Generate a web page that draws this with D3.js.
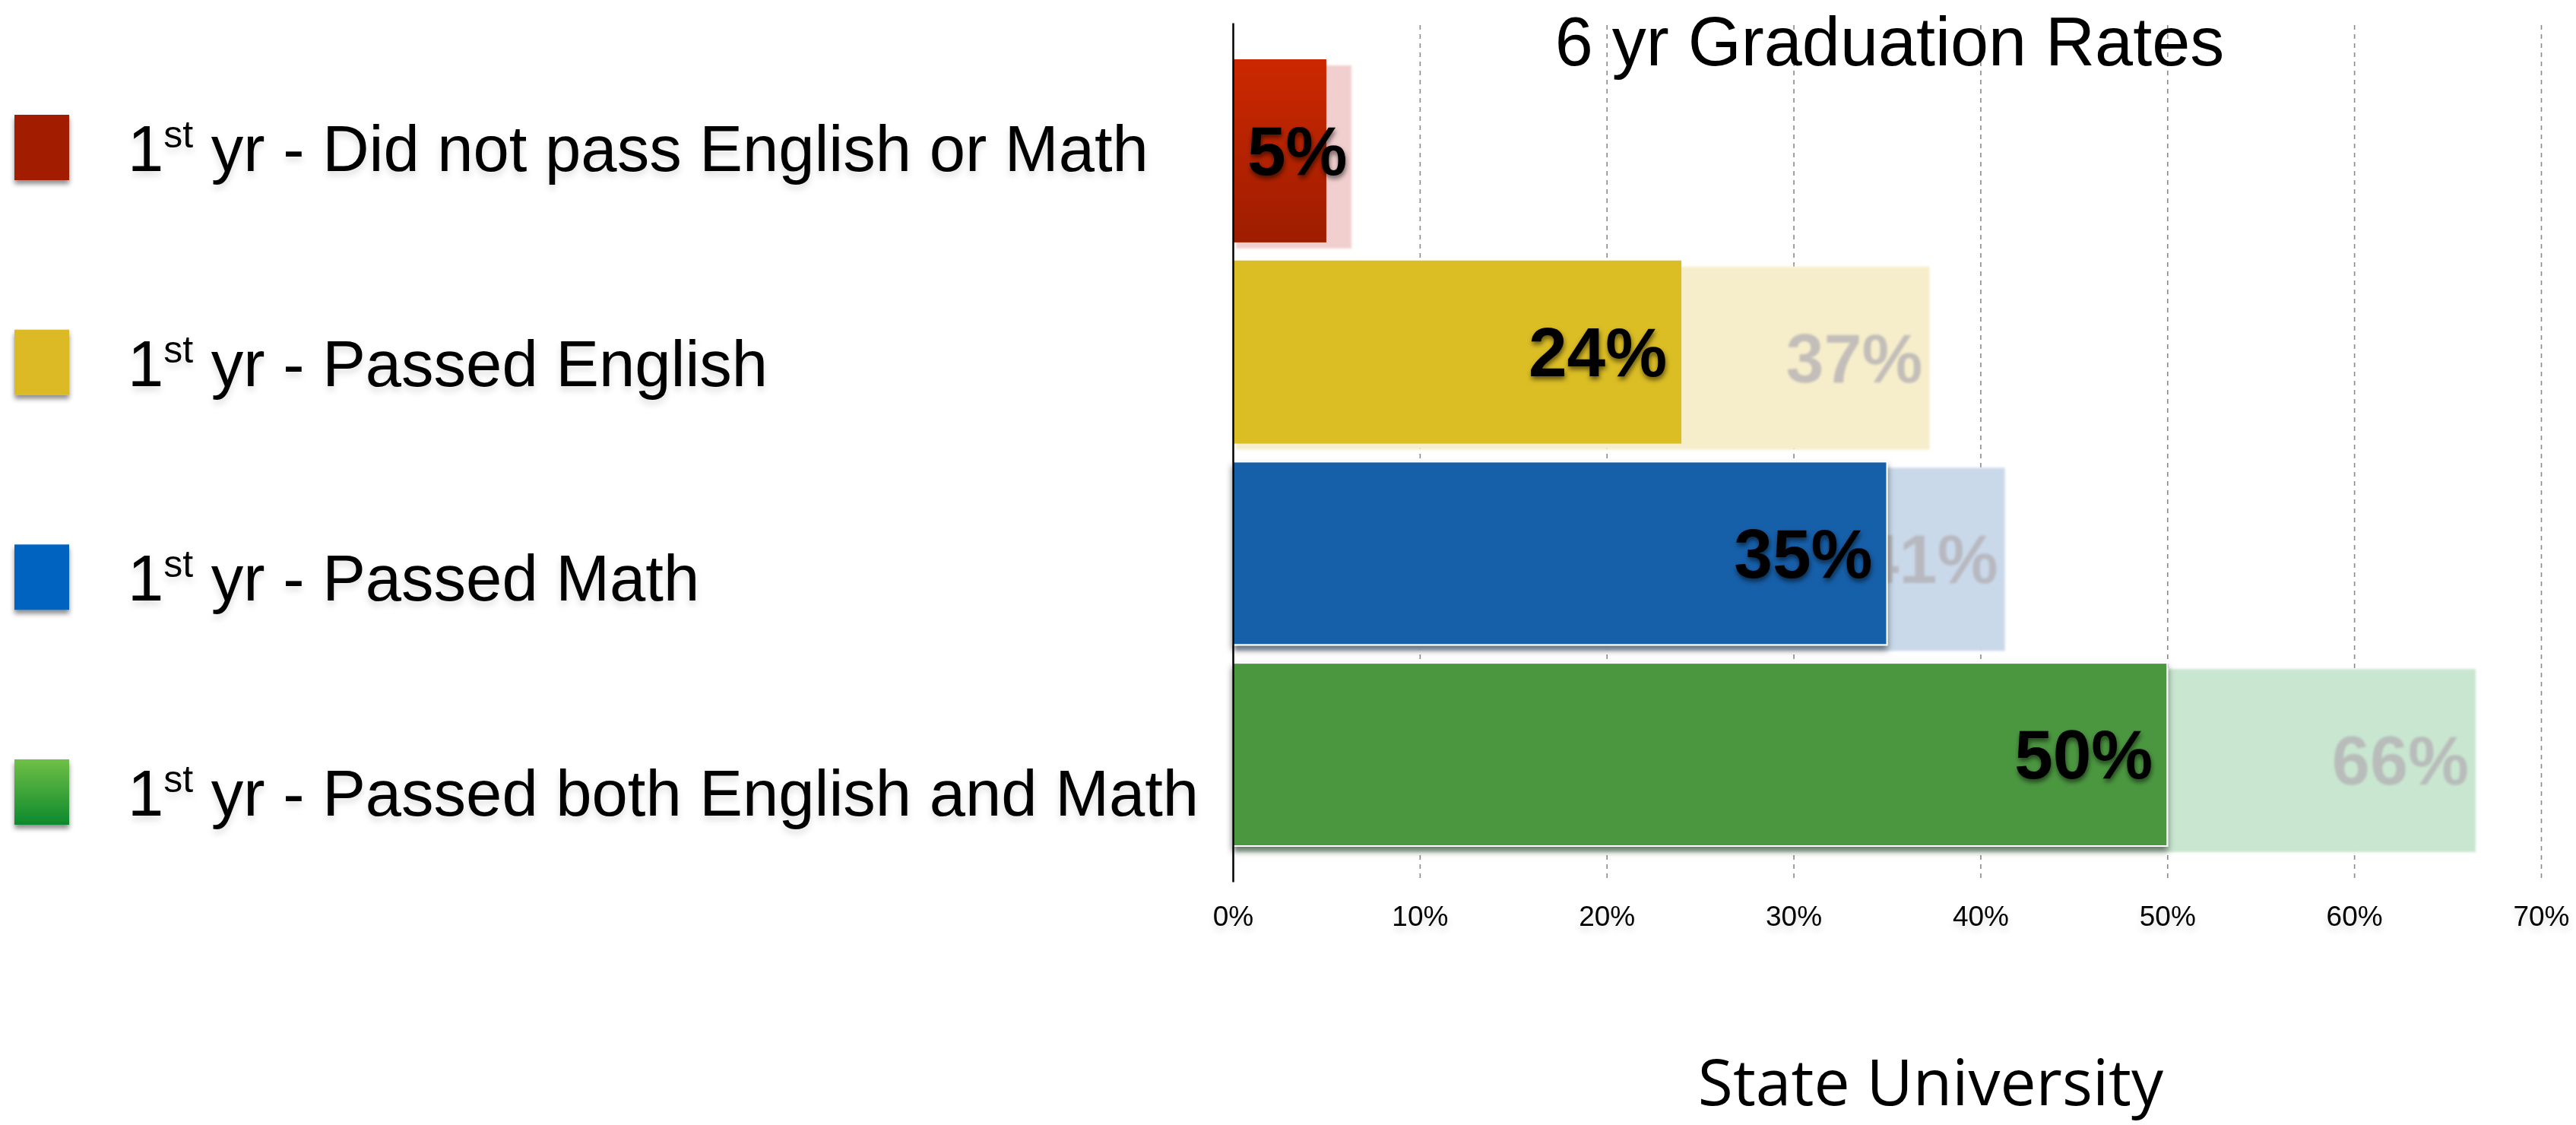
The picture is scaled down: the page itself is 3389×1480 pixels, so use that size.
<!DOCTYPE html>
<html><head><meta charset="utf-8">
<script src="https://cdn.jsdelivr.net/npm/d3@7"></script>
<style>html,body{margin:0;padding:0;background:#fff;overflow:hidden}svg{display:block}</style>
</head><body>
<svg id="chart" width="3389" height="1480"></svg>
<script>
// ---- data ----
const categories = [
  "1st yr - Did not pass English or Math",
  "1st yr - Passed English",
  "1st yr - Passed Math",
  "1st yr - Passed both English and Math"
];
const stateValues = [5, 24, 35, 50];          // State University, 6 yr graduation rate (%)
const comparisonValues = [6.3, 37, 41, 66];   // faded comparison bars behind (%)
const tickValues = [0, 10, 20, 30, 40, 50, 60, 70];
const chartTitle = "6 yr Graduation Rates";
const axisTitle = "State University";

// ---- styles ----
const barFills = ["url(#gRed)", "#dbbd24", "#175ea9", "#4b9741"];
const barStrokes = ["none", "none", "#ffffff", "#ffffff"];
const barShadow = [false, false, true, true];
const ghostFills = ["#f2cfcf", "#f6eecb", "#c9d9ea", "#c9e6d0"];
const legendFills = ["#a21f00", "#dbba25", "#0563bf", "url(#gGreen)"];
const FONT = "'Liberation Sans', Arial, Helvetica, sans-serif";

const svg = d3.select("#chart");
const defs = svg.append("defs");

function vGrad(id, c1, c2) {
  const g = defs.append("linearGradient").attr("id", id).attr("x1", 0).attr("y1", 0).attr("x2", 0).attr("y2", 1);
  g.append("stop").attr("offset", "0%").attr("stop-color", c1);
  g.append("stop").attr("offset", "100%").attr("stop-color", c2);
}
vGrad("gRed", "#cc2800", "#9e1d00");
vGrad("gGreen", "#6fc046", "#0d892d");

function shadow(id, dx, dy, sd, op) {
  const f = defs.append("filter").attr("id", id).attr("x", "-20%").attr("y", "-20%").attr("width", "140%").attr("height", "150%");
  f.append("feDropShadow").attr("dx", dx).attr("dy", dy).attr("stdDeviation", sd)
    .attr("flood-color", "#000").attr("flood-opacity", op);
}
shadow("txtShadow", 1, 4, 3, 0.55);
shadow("barShadow", 0, 6, 4, 0.5);
shadow("legShadow", 0, 5, 3, 0.45);
shadow("softShadow", 0, 6, 4, 0.12);
const blur = defs.append("filter").attr("id", "ghostBlur").attr("x", "-10%").attr("y", "-10%").attr("width", "120%").attr("height", "120%");
blur.append("feGaussianBlur").attr("stdDeviation", 1.6);

// ---- scales ----
const x = d3.scaleLinear().domain([0, 70]).range([1622, 3343]);
const xGhost = d3.scaleLinear().domain([0, 70]).range([1622, 1622 + (3343 - 1622) * 1.0076]);
const y = d3.scaleBand().domain(categories).range([78, 1113]).paddingInner(0.09).paddingOuter(0);
const ghostOffset = 8;
const yLegend = d3.scalePoint().domain(categories).range([194, 1042]);
const pct = v => d3.format(".0f")(v) + "%";

// ---- gridlines ----
const grid = svg.append("g")
  .attr("transform", "translate(0,1160)")
  .call(d3.axisBottom(x).tickValues(tickValues.filter(t => t > 0)).tickSize(-1128).tickFormat(""));
grid.select(".domain").remove();
grid.selectAll(".tick line").attr("stroke", "#8a8a8a").attr("stroke-width", 1.6).attr("stroke-dasharray", "6,6").attr("y1", -5);

// ---- ghost (comparison) bars ----
const ghost = svg.append("g").attr("filter", "url(#ghostBlur)");
ghost.selectAll("rect").data(categories).join("rect")
  .attr("x", xGhost(0) + 4)
  .attr("y", d => y(d) + ghostOffset)
  .attr("width", (d, i) => xGhost(comparisonValues[i]) - xGhost(0) - 4)
  .attr("height", y.bandwidth())
  .attr("fill", (d, i) => ghostFills[i]);
ghost.selectAll("text").data(categories).join("text")
  .attr("x", (d, i) => xGhost(comparisonValues[i]) - 9)
  .attr("y", d => y(d) + ghostOffset + y.bandwidth() / 2)
  .attr("dy", "0.35em")
  .attr("text-anchor", "end")
  .attr("font-family", FONT).attr("font-weight", "bold").attr("font-size", 90)
  .attr("fill", "#b3afb3").attr("opacity", 0.75)
  .text((d, i) => pct(comparisonValues[i]))
  .each(function (d, i) {
    // a comparison label mostly hidden behind the front bar is not shown
    const w = this.getComputedTextLength();
    const centre = xGhost(comparisonValues[i]) - 9 - w / 2;
    if (centre < x(stateValues[i])) d3.select(this).remove();
  });

// ---- main bars ----
const bars = svg.append("g");
bars.selectAll("rect").data(categories).join("rect")
  .attr("x", x(0))
  .attr("y", d => y(d))
  .attr("width", (d, i) => x(stateValues[i]) - x(0))
  .attr("height", y.bandwidth())
  .attr("fill", (d, i) => barFills[i])
  .attr("stroke", (d, i) => barStrokes[i])
  .attr("stroke-width", 2)
  .attr("filter", (d, i) => barShadow[i] ? "url(#barShadow)" : null);

// ---- axis line ----
svg.append("g").attr("transform", `translate(${x(0)},0)`)
  .call(d3.axisLeft(d3.scaleLinear().range([30, 1160])).ticks(0).tickSize(0))
  .select(".domain").attr("stroke", "#000").attr("stroke-width", 2.5);

// ---- value labels ----
const labels = svg.append("g").attr("filter", "url(#txtShadow)");
labels.selectAll("text").data(categories).join("text")
  .attr("y", d => y(d) + y.bandwidth() / 2)
  .attr("dy", "0.35em")
  .attr("font-family", FONT).attr("font-weight", "bold").attr("font-size", 91)
  .attr("fill", "#000")
  .text((d, i) => pct(stateValues[i]))
  .each(function (d, i) {
    const w = this.getComputedTextLength();
    const pad = 19;
    const barW = x(stateValues[i]) - x(0);
    if (w + 2 * pad > barW) {
      d3.select(this).attr("x", x(0) + pad).attr("text-anchor", "start");
    } else {
      d3.select(this).attr("x", x(stateValues[i]) - pad).attr("text-anchor", "end");
    }
  });

// ---- tick labels ----
const tAxis = svg.append("g").attr("transform", "translate(0,1160)")
  .call(d3.axisBottom(x).tickValues(tickValues).tickSize(0).tickPadding(0).tickFormat(pct));
tAxis.select(".domain").remove();
tAxis.selectAll("text").attr("font-family", FONT).attr("font-size", 37).attr("fill", "#000")
  .attr("y", 58).attr("dy", 0).attr("filter", "url(#softShadow)");

// ---- title ----
svg.append("text").attr("x", 2486).attr("y", 86).attr("text-anchor", "middle")
  .attr("font-family", FONT).attr("font-size", 90).attr("fill", "#000").text(chartTitle);

svg.append("text").attr("x", 2540).attr("y", 1454).attr("text-anchor", "middle")
  .attr("font-family", "'Open Sans', 'Noto Sans', sans-serif").attr("font-size", 84).attr("fill", "#000").text(axisTitle);

// ---- legend ----
const leg = svg.append("g").selectAll("g").data(categories).join("g")
  .attr("transform", d => `translate(0,${yLegend(d)})`);
leg.append("rect").attr("x", 19).attr("y", -43).attr("width", 72).attr("height", 86)
  .attr("fill", (d, i) => legendFills[i]).attr("filter", "url(#legShadow)");
const lt = leg.append("text").attr("x", 168).attr("y", 31)
  .attr("font-family", FONT).attr("font-size", 85).attr("fill", "#000")
  .attr("filter", "url(#softShadow)");
lt.each(function (d) {
  const m = d.match(/^(\d+)(st|nd|rd|th)(.*)$/);
  const t = d3.select(this);
  t.append("tspan").text(m[1]);
  t.append("tspan").attr("font-size", 50).attr("dy", -31).text(m[2]);
  t.append("tspan").attr("dy", 31).text(m[3]);
});
</script>
</body></html>
